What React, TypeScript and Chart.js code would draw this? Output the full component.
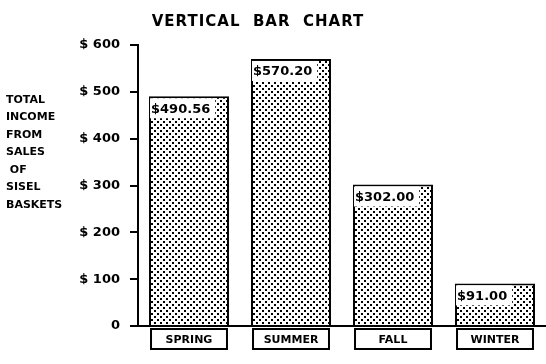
import React, { useEffect, useRef } from "react";
import { Chart, registerables } from "chart.js";

Chart.register(...registerables);

const chartTitle = "VERTICAL  BAR  CHART";
const seasons = ["SPRING", "SUMMER", "FALL", "WINTER"];
const income = [490.56, 570.2, 302.0, 91.0];
const valueLabels = ["$490.56", "$570.20", "$302.00", "$91.00"];
const yTitleLines = ["TOTAL", "INCOME", "FROM", "SALES", " OF", "SISEL", "BASKETS"];
const yMax = 600;
const yStep = 100;

const FONT = "'DejaVu Sans', sans-serif";

function makePattern(): CanvasPattern | string {
  const c = document.createElement("canvas");
  c.width = 6;
  c.height = 6;
  const g = c.getContext("2d");
  if (!g) return "#bbb";
  g.fillStyle = "#fff";
  g.fillRect(0, 0, 6, 6);
  g.fillStyle = "#000";
  g.fillRect(1, 1, 2, 2);
  g.fillRect(4, 4, 2, 2);
  const p = g.createPattern(c, "repeat");
  return p || "#bbb";
}

const decorPlugin = {
  id: "decor",
  afterDraw(chart: any) {
    const ctx = chart.ctx as CanvasRenderingContext2D;
    const meta = chart.getDatasetMeta(0);
    ctx.save();
    // title
    ctx.fillStyle = "#000";
    ctx.font = `bold 15px ${FONT}`;
    ctx.textAlign = "center";
    ctx.textBaseline = "middle";
    (ctx as any).letterSpacing = "1px";
    ctx.fillText(chartTitle, 258, 22);
    (ctx as any).letterSpacing = "0px";
    // y title lines
    ctx.font = `bold 11px ${FONT}`;
    ctx.textAlign = "left";
    yTitleLines.forEach((t, i) => {
      ctx.fillText(t, 6, 100 + i * 17.5);
    });
    // value labels and category boxes
    meta.data.forEach((bar: any, i: number) => {
      const left = bar.x - bar.width / 2;
      const right = bar.x + bar.width / 2;
      ctx.font = `bold 13px ${FONT}`;
      const w = ctx.measureText(valueLabels[i]).width;
      ctx.fillStyle = "#fff";
      ctx.fillRect(left + 1, bar.y + 2, Math.min(w + 6, bar.width - 2), 20);
      ctx.fillStyle = "#000";
      ctx.textAlign = "left";
      ctx.fillText(valueLabels[i], left + 2, bar.y + 13);
      // category box
      const top = chart.chartArea.bottom + 3;
      ctx.strokeStyle = "#000";
      ctx.lineWidth = 2;
      ctx.strokeRect(left + 2, top, right - left - 4, 20);
      ctx.font = `bold 11px ${FONT}`;
      ctx.textAlign = "center";
      ctx.fillText(seasons[i], bar.x, top + 11);
    });
    ctx.restore();
  },
};

export default function App() {
  const ref = useRef<HTMLCanvasElement | null>(null);
  useEffect(() => {
    if (!ref.current) return;
    const chart = new Chart(ref.current, {
      type: "bar",
      data: {
        labels: seasons,
        datasets: [
          {
            data: income,
            backgroundColor: makePattern() as any,
            borderColor: "#000",
            borderWidth: 2,
            barPercentage: 0.8,
            categoryPercentage: 0.98,
          },
        ],
      },
      options: {
        responsive: false,
        animation: false,
        layout: { padding: { top: 45, bottom: 38, left: 0, right: 0 } },
        plugins: {
          legend: { display: false },
          tooltip: { enabled: false },
          title: { display: false },
        },
        scales: {
          x: {
            grid: { display: false },
            ticks: { display: false },
            border: { display: true, color: "#000", width: 2 },
            afterFit: (s: any) => {
              s.height = 0;
            },
          },
          y: {
            min: 0,
            max: yMax,
            ticks: {
              stepSize: yStep,
              color: "#000",
              padding: 10,
              font: { family: FONT, size: 13, weight: "bold" },
              callback: (v: any) => (Number(v) === 0 ? "0" : "$ " + v),
            },
            grid: {
              drawOnChartArea: false,
              drawTicks: true,
              tickLength: 8,
              color: "#000",
              lineWidth: 2,
            },
            border: { display: true, color: "#000", width: 2 },
            afterFit: (s: any) => {
              s.width = 138;
            },
          },
        },
      },
      plugins: [decorPlugin],
    });
    return () => chart.destroy();
  }, []);
  return (
    <div style={{ position: "fixed", left: 0, top: 0, width: 546, height: 364, background: "#fff" }}>
      <canvas ref={ref} width={546} height={364} />
    </div>
  );
}
